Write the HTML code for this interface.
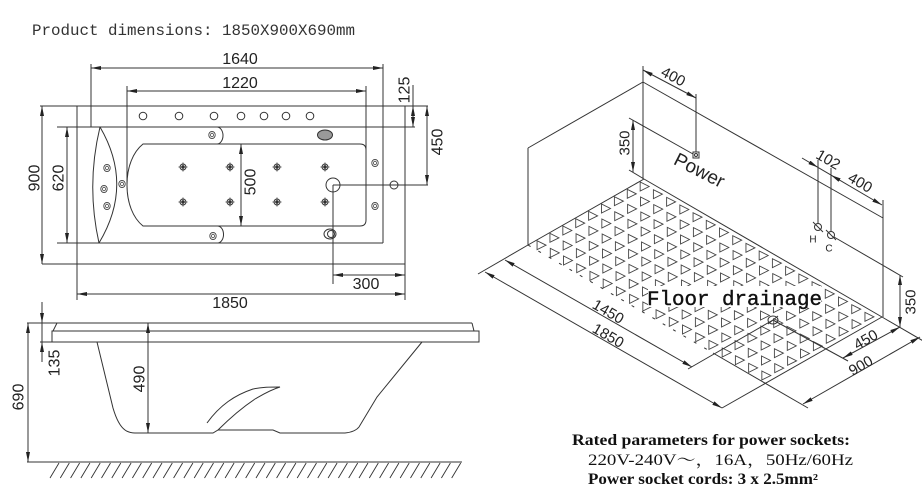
<!DOCTYPE html>
<html><head><meta charset="utf-8">
<style>
html,body{margin:0;padding:0;background:#fff;}
svg{display:block;}
</style></head><body>
<svg width="922" height="486" viewBox="0 0 922 486" xmlns="http://www.w3.org/2000/svg" xmlns:xlink="http://www.w3.org/1999/xlink">
<defs>
<marker id="a" viewBox="0 0 10 4" refX="10" refY="2" markerWidth="10" markerHeight="4" markerUnits="userSpaceOnUse" orient="auto-start-reverse"><path d="M0,0 L10,2 L0,4 Z" fill="#222"/></marker>
<path id="t" d="M-4,-4.5 L-4,4.5 L5,0 Z" fill="none" stroke="#444" stroke-width="0.9"/>
<g id="r">
<use href="#t" x="0" y="0"/><use href="#t" x="13.22" y="7.67"/><use href="#t" x="26.44" y="15.33"/><use href="#t" x="39.67" y="23"/><use href="#t" x="52.89" y="30.67"/><use href="#t" x="66.11" y="38.33"/><use href="#t" x="79.33" y="46"/><use href="#t" x="92.56" y="53.67"/><use href="#t" x="105.78" y="61.33"/><use href="#t" x="119" y="69"/><use href="#t" x="132.22" y="76.67"/><use href="#t" x="145.44" y="84.33"/><use href="#t" x="158.67" y="92"/><use href="#t" x="171.89" y="99.67"/><use href="#t" x="185.11" y="107.33"/><use href="#t" x="198.33" y="115"/><use href="#t" x="211.56" y="122.67"/><use href="#t" x="224.78" y="130.33"/>
</g>
<g id="j"><circle r="3" fill="none" stroke="#333" stroke-width="0.9"/><circle r="1.7" fill="#333"/><path d="M-4.5,0H4.5M0,-4.5V4.5" stroke="#333" stroke-width="0.8"/></g>
<g id="o"><ellipse rx="3.2" ry="3.6" fill="none" stroke="#444" stroke-width="0.9"/><ellipse rx="1.5" ry="1.8" fill="none" stroke="#444" stroke-width="0.8"/></g>
</defs>

<!-- Title -->
<text x="32" y="35" font-family="Liberation Mono, monospace" font-size="16" fill="#333" textLength="323" lengthAdjust="spacingAndGlyphs">Product dimensions: 1850X900X690mm</text>

<!-- ============ TOP VIEW ============ -->
<g stroke="#333" stroke-width="1" fill="none">
<line x1="40" y1="106" x2="428" y2="106"/>
<line x1="42" y1="264" x2="405" y2="264"/>
<line x1="57" y1="127" x2="415" y2="127"/>
<line x1="57" y1="243" x2="383" y2="243"/>
<line x1="77" y1="106" x2="77" y2="300"/>
<line x1="405" y1="106" x2="405" y2="300"/>
<line x1="91" y1="64" x2="91" y2="127"/>
<line x1="383" y1="64" x2="383" y2="243"/>
<line x1="127" y1="86" x2="127" y2="185"/>
<line x1="366" y1="86" x2="366" y2="150"/>
<path d="M143,144 L360,144 Q366,144 366,150 L366,220 Q366,226 360,226 L143,226 C133,218 127,203 127,185 C127,167 133,152 143,144 Z"/>
<path d="M100,127 Q86,185 99,243"/>
<path d="M100,127 Q134,185 99,243"/>
<path d="M217,127 A6,8.5 0 0 1 217,144"/>
<path d="M217,226 A6,8.5 0 0 1 218,243"/>
<circle cx="143" cy="116" r="3.8"/><circle cx="179" cy="116" r="3.8"/><circle cx="214" cy="116" r="3.8"/><circle cx="241" cy="116" r="3.8"/><circle cx="264" cy="116" r="3.8"/><circle cx="286" cy="116" r="3.8"/><circle cx="310" cy="116" r="3.8"/>
<circle cx="333" cy="185" r="7"/>
<circle cx="394" cy="185" r="4"/>
<line x1="333" y1="185" x2="428" y2="185"/>
<line x1="333" y1="185" x2="333" y2="284"/>
<ellipse cx="330" cy="234" rx="6" ry="5"/>
<ellipse cx="331" cy="234" rx="3.5" ry="3.5"/>
<ellipse cx="325" cy="135" rx="7.5" ry="5" fill="#999"/>
<line x1="91" y1="68" x2="383" y2="68" marker-start="url(#a)" marker-end="url(#a)"/>
<line x1="127" y1="91" x2="366" y2="91" marker-start="url(#a)" marker-end="url(#a)"/>
<line x1="77" y1="294" x2="405" y2="294" marker-start="url(#a)" marker-end="url(#a)"/>
<line x1="333" y1="275" x2="405" y2="275" marker-start="url(#a)" marker-end="url(#a)"/>
<line x1="42" y1="106" x2="42" y2="264" marker-start="url(#a)" marker-end="url(#a)"/>
<line x1="67" y1="127" x2="67" y2="243" marker-start="url(#a)" marker-end="url(#a)"/>
<line x1="241" y1="144" x2="241" y2="226" marker-start="url(#a)" marker-end="url(#a)"/>
<line x1="427" y1="106" x2="427" y2="185" marker-start="url(#a)" marker-end="url(#a)"/>
<line x1="413" y1="85" x2="413" y2="106"/>
<line x1="413" y1="106" x2="413" y2="127" marker-start="url(#a)" marker-end="url(#a)"/>
</g>
<use href="#j" x="183" y="167"/><use href="#j" x="230" y="167"/><use href="#j" x="277" y="167"/><use href="#j" x="325" y="167"/>
<use href="#j" x="183" y="202"/><use href="#j" x="230" y="202"/><use href="#j" x="277" y="202"/><use href="#j" x="325" y="202"/>
<use href="#o" x="107" y="168"/><use href="#o" x="104" y="189"/><use href="#o" x="107" y="206"/><use href="#o" x="122" y="184"/>
<use href="#o" x="212" y="135"/><use href="#o" x="213" y="236"/>
<use href="#o" x="375" y="163"/><use href="#o" x="375" y="206"/>

<g font-family="Liberation Sans, sans-serif" font-size="16" fill="#222">
<text x="240" y="64" text-anchor="middle">1640</text>
<text x="240" y="88" text-anchor="middle">1220</text>
<text x="230" y="308" text-anchor="middle">1850</text>
<text x="366" y="289" text-anchor="middle">300</text>
<text transform="translate(35,178) rotate(-90)" text-anchor="middle" dominant-baseline="central">900</text>
<text transform="translate(59,178) rotate(-90)" text-anchor="middle" dominant-baseline="central">620</text>
<text transform="translate(251,182) rotate(-90)" text-anchor="middle" dominant-baseline="central">500</text>
<text transform="translate(438,142) rotate(-90)" text-anchor="middle" dominant-baseline="central">450</text>
<text transform="translate(405,90) rotate(-90)" text-anchor="middle" dominant-baseline="central">125</text>
<text transform="translate(55,363) rotate(-90)" text-anchor="middle" dominant-baseline="central">135</text>
<text transform="translate(19,397) rotate(-90)" text-anchor="middle" dominant-baseline="central">690</text>
<text transform="translate(140,379) rotate(-90)" text-anchor="middle" dominant-baseline="central">490</text>
</g>

<!-- ============ SIDE VIEW ============ -->
<g stroke="#333" stroke-width="1" fill="none">
<line x1="27" y1="323" x2="472" y2="323"/>
<path d="M53,331 L57,323 M472,323 L474,331"/>
<path d="M52,331 H479 V342 H52 Z"/>
<line x1="40" y1="342" x2="52" y2="342"/>
<line x1="28" y1="323" x2="28" y2="462" marker-start="url(#a)" marker-end="url(#a)"/>
<line x1="42" y1="302" x2="42" y2="323" marker-end="url(#a)"/>
<line x1="42" y1="323" x2="42" y2="342"/>
<line x1="42" y1="362" x2="42" y2="342" marker-end="url(#a)"/>
<line x1="148" y1="323" x2="148" y2="433" marker-start="url(#a)" marker-end="url(#a)"/>
<path d="M97,342 L113,408 Q118,425 125,430 Q129,433 135,433 L213,433 L218,430 L273,430 L280,433 L345,433 Q355,432 359,427 L377,397 L422,342"/>
<path d="M207,423 C220,405 235,395 253,389 C262,387 270,387 280,387 C270,390 262,395 255,399 C240,409 228,420 218,430"/>
<line x1="27" y1="462" x2="462" y2="462"/>
<path stroke-width="0.9" d="M50,478l9,-15M60.3,478l9,-15M70.6,478l9,-15M80.9,478l9,-15M91.2,478l9,-15M101.5,478l9,-15M111.8,478l9,-15M122.1,478l9,-15M132.4,478l9,-15M142.7,478l9,-15M153,478l9,-15M163.3,478l9,-15M173.6,478l9,-15M183.9,478l9,-15M194.2,478l9,-15M204.5,478l9,-15M214.8,478l9,-15M225.1,478l9,-15M235.4,478l9,-15M245.7,478l9,-15M256,478l9,-15M266.3,478l9,-15M276.6,478l9,-15M286.9,478l9,-15M297.2,478l9,-15M307.5,478l9,-15M317.8,478l9,-15M328.1,478l9,-15M338.4,478l9,-15M348.7,478l9,-15M359,478l9,-15M369.3,478l9,-15M379.6,478l9,-15M389.9,478l9,-15M400.2,478l9,-15M410.5,478l9,-15M420.8,478l9,-15M431.1,478l9,-15M441.4,478l9,-15M451.7,478l9,-15"/>
</g>

<!-- ============ ISOMETRIC ============ -->
<use href="#r" transform="translate(644.17,186.5)"/>
<use href="#r" transform="translate(631.28,193.83)"/>
<use href="#r" transform="translate(618.39,201.17)"/>
<use href="#r" transform="translate(605.5,208.5)"/>
<use href="#r" transform="translate(592.61,215.83)"/>
<use href="#r" transform="translate(579.72,223.17)"/>
<use href="#r" transform="translate(566.83,230.5)"/>
<use href="#r" transform="translate(553.94,237.83)"/>
<use href="#r" transform="translate(541.06,245.17)"/>

<g stroke="#333" stroke-width="1" fill="none">
<line x1="643" y1="82" x2="528" y2="148"/>
<line x1="528" y1="148" x2="528" y2="245"/>
<line x1="643" y1="66" x2="643" y2="179"/>
<line x1="643" y1="82" x2="883" y2="218"/>
<line x1="883" y1="200" x2="883" y2="317"/>
<line x1="644" y1="179" x2="528" y2="245"/>
<line x1="644" y1="179" x2="882" y2="317"/>
<line x1="722" y1="408" x2="882" y2="317"/>
<line x1="528" y1="245" x2="713" y2="353" stroke-dasharray="3 9"/>
<line x1="713" y1="353" x2="808" y2="408"/>
<line x1="528" y1="245" x2="478" y2="274"/>
<line x1="882" y1="317" x2="925" y2="342"/>
<ellipse cx="773" cy="320" rx="5" ry="4"/>
<line x1="768" y1="324" x2="778" y2="316"/>
<line x1="773" y1="320" x2="688" y2="369"/>
<line x1="773" y1="320" x2="848" y2="361"/>
<line x1="485" y1="272" x2="722" y2="408" marker-start="url(#a)" marker-end="url(#a)"/>
<line x1="505" y1="260" x2="692" y2="367" marker-start="url(#a)" marker-end="url(#a)"/>
<line x1="843" y1="358" x2="900" y2="327" marker-start="url(#a)" marker-end="url(#a)"/>
<line x1="803" y1="404" x2="920" y2="337" marker-start="url(#a)" marker-end="url(#a)"/>
<line x1="643" y1="70" x2="696" y2="98" marker-start="url(#a)" marker-end="url(#a)"/>
<line x1="696" y1="94" x2="696" y2="152"/>
<rect x="693" y="152" width="6" height="6"/>
<circle cx="696" cy="155" r="1.5"/>
<line x1="629" y1="118" x2="693" y2="154"/>
<line x1="629" y1="170" x2="644" y2="179"/>
<line x1="633" y1="120" x2="633" y2="172" marker-start="url(#a)" marker-end="url(#a)"/>
<line x1="802" y1="158" x2="818" y2="167.4" marker-end="url(#a)"/>
<line x1="818" y1="167.4" x2="831" y2="175.1"/>
<line x1="831" y1="175.1" x2="882" y2="205" marker-start="url(#a)" marker-end="url(#a)"/>
<line x1="818" y1="160" x2="818" y2="224"/>
<line x1="831" y1="168" x2="831" y2="232"/>
<circle cx="818" cy="227" r="3.5"/>
<circle cx="831" cy="235" r="3.5"/>
<line x1="813" y1="222" x2="823" y2="232"/>
<line x1="826" y1="230" x2="836" y2="240"/>
<line x1="834" y1="237" x2="903" y2="277"/>
<line x1="900" y1="275" x2="900" y2="327" marker-start="url(#a)" marker-end="url(#a)"/>
</g>

<rect x="648" y="286" width="173" height="21" fill="#fff"/>
<text x="647" y="305" font-family="Liberation Mono, monospace" font-size="20" fill="#111" stroke="#111" stroke-width="0.4" textLength="175" lengthAdjust="spacingAndGlyphs">Floor drainage</text>

<g font-family="Liberation Sans, sans-serif" font-size="15" fill="#222" text-anchor="middle" dominant-baseline="central">
<text transform="translate(673,77) rotate(28)">400</text>
<text transform="translate(625,143) rotate(-90)">350</text>
<text transform="translate(699,171) rotate(27)" font-size="19">Power</text>
<text transform="translate(828,160) rotate(30)">102</text>
<text transform="translate(860,183) rotate(30)">400</text>
<text transform="translate(911,302) rotate(-90)">350</text>
<text transform="translate(608,312) rotate(30)">1450</text>
<text transform="translate(608,336) rotate(30)">1850</text>
<text transform="translate(866,340) rotate(-30)">450</text>
<text transform="translate(861,366) rotate(-30)">900</text>
<text x="813" y="240" font-size="10">H</text>
<text x="829" y="249" font-size="10">C</text>
</g>

<g font-family="Liberation Serif, 'Noto Serif CJK SC', serif" font-size="15.5" fill="#111">
<text x="572" y="445" font-weight="bold" textLength="278" lengthAdjust="spacingAndGlyphs">Rated parameters for power sockets:</text>
<text x="588" y="465" textLength="265" lengthAdjust="spacingAndGlyphs">220V-240V～，16A，50Hz/60Hz</text>
<text x="588" y="484" font-weight="bold" textLength="230" lengthAdjust="spacingAndGlyphs">Power socket cords: 3 x 2.5mm²</text>
</g>
</svg>
</body></html>
